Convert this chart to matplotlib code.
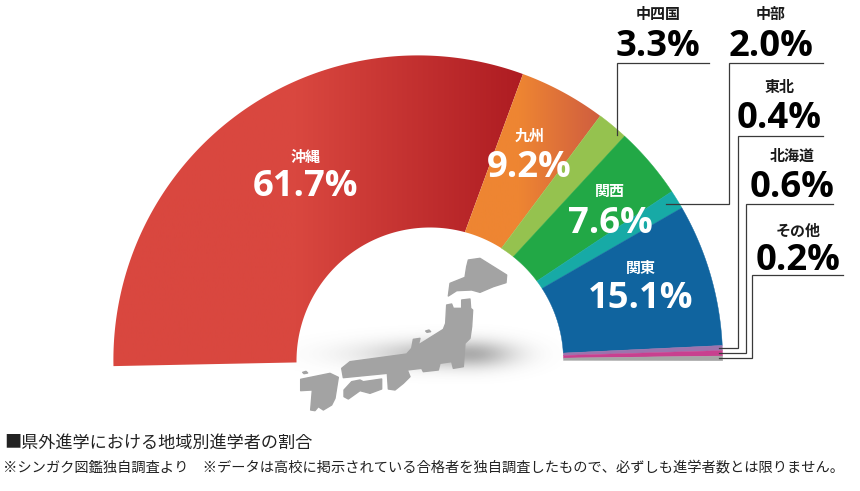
#!/usr/bin/env python3
"""Half-donut of where out-of-prefecture students go, by region."""
import numpy as np
import matplotlib
matplotlib.use("Agg")
import matplotlib.pyplot as plt
from matplotlib.colors import to_rgb
from matplotlib.patches import Polygon

JP = ["Noto Sans CJK JP", "DejaVu Sans"]
NUM = "Open Sans"

regions = ["沖縄", "九州", "中四国", "関西", "中部", "関東", "東北", "北海道", "その他"]
shares = [61.7, 9.2, 3.3, 7.6, 2.0, 15.1, 0.4, 0.6, 0.2]
colors = ["#d9473f", "#ee8532", "#95c24f", "#22a846", "#17aaa6", "#10649f",
          "#9d73ad", "#c8408f", "#a6a6a6"]
# horizontal shading in the two warm wedges: (left colour, right colour, where it starts)
shading = {"沖縄": ("#d9473f", "#ae1c22", 0.45), "九州": ("#ee8532", "#cf5d40", 0.4)}
# the three thinnest wedges are not to scale in the original: drawn width in degrees
sliver_deg = {"東北": 0.95, "北海道": 1.03, "その他": 0.9}

title = "■県外進学における地域別進学者の割合"
note = "※シンガク図鑑独自調査より　※データは高校に掲示されている合格者を独自調査したもので、必ずしも進学者数とは限りません。"

# region -> (name x, name y, value x, value y)
inner_labels = {
    "沖縄": (306, 157, 306, 187),
    "九州": (530, 136, 529, 168),
    "関西": (610, 191, 610, 224),
    "関東": (641, 268, 641, 299),
}
outer_labels = {
    "中四国": (658, 14, 658, 47),
    "中部": (771, 14, 771, 47),
    "東北": (780, 87, 779, 119),
    "北海道": (792, 156, 792, 188),
    "その他": (798, 231, 798, 261),
}

# leader lines, image pixels
leaders = [
    ([616.5, 616.5, 709], [135, 62.5, 62.5]),
    ([666, 729, 729, 823], [204, 204, 62.5, 62.5]),
    ([719, 738, 738, 823], [348, 348, 135.5, 135.5]),
    ([719, 745.5, 745.5, 833], [353, 353, 204, 204]),
    ([719, 751.5, 751.5, 843], [358, 358, 275, 275]),
]

hokkaido = [(565, 60), (600, 55), (680, 105), (678, 128), (640, 140), (600, 157), (575, 150),
            (530, 152), (505, 168), (510, 130), (555, 112), (560, 80)]
honshu = [(500, 195), (515, 192), (520, 205), (545, 205), (545, 180), (570, 177), (572, 205),
          (578, 210), (575, 260), (570, 295), (555, 310), (550, 380), (520, 385), (515, 365),
          (480, 370), (475, 390), (430, 395), (425, 385), (382, 390), (390, 410), (370, 430),
          (345, 450), (325, 447), (322, 400), (190, 413), (185, 385), (210, 365), (380, 342),
          (395, 325), (400, 298), (420, 295), (415, 315), (490, 268), (497, 250)]
shikoku = [(192, 450), (215, 425), (240, 420), (250, 425), (305, 417), (305, 447), (270, 460),
           (240, 452), (205, 477), (192, 470)]
kyushu = [(62, 418), (150, 400), (175, 412), (165, 475), (155, 495), (130, 510), (115, 500),
          (105, 512), (92, 510), (97, 450), (62, 452)]
sado = [(437, 273), (447, 270), (452, 275), (441, 277)]
tsushima = [(68, 397), (78, 394), (83, 399), (72, 401)]

# Wedge edges are rays from the outer circle's centre, cut by an off-centre inner circle
OUT_C, OUT_R = np.array([418.0, 360.0]), 304.6
IN_C, IN_R = np.array([430.0, 361.0]), 133.5
START_DEG = 181.15
DEG_PER_PCT = 1.804

fig = plt.figure(figsize=(8.6, 4.91), dpi=100)
ax = fig.add_axes([0, 0, 1, 1])
ax.set_xlim(0, 860)
ax.set_ylim(491, 0)
ax.axis("off")

# soft shadow under the map, longer to the left
xx, yy = np.meshgrid(np.linspace(290, 565, 275), np.linspace(320, 395, 75))
sx = np.where(xx < 470, 95.0, 45.0)
alpha = np.exp(-((xx - 470) / sx) ** 2 - ((yy - 354) / 14) ** 2) * 0.5
shadow = np.zeros(alpha.shape + (4,))
shadow[..., :3] = 0.35
shadow[..., 3] = alpha
ax.imshow(shadow, extent=(290, 565, 395, 320), aspect="auto", zorder=1)


def wedge_points(a0, a1):
    t = np.radians(np.linspace(a0, a1, 200))
    d = np.column_stack([np.cos(t), -np.sin(t)])  # y runs downward
    outer = OUT_C + OUT_R * d
    # where each ray meets the inner circle
    off = OUT_C - IN_C
    b = d @ off
    s = -b + np.sqrt(b ** 2 - off @ off + IN_R ** 2)
    inner = OUT_C + s[:, None] * d
    return np.vstack([outer, inner[::-1]])


angle = START_DEG
for name, val, col in zip(regions, shares, colors):
    step = sliver_deg.get(name, val * DEG_PER_PCT)
    pts = wedge_points(angle, angle - step)
    angle -= step
    if name in shading:
        left, right, begin = shading[name]
        x0, x1 = pts[:, 0].min(), pts[:, 0].max()
        f = np.clip((np.linspace(0, 1, 256) - begin) / (1 - begin), 0, 1)[None, :, None]
        grad = np.array(to_rgb(left)) * (1 - f) + np.array(to_rgb(right)) * f
        im = ax.imshow(grad, extent=(x0, x1, 400, 0), aspect="auto", zorder=2)
        im.set_clip_path(Polygon(pts, closed=True, transform=ax.transData))
    else:
        ax.add_patch(Polygon(pts, closed=True, fc=col, ec=col, lw=0.3, zorder=2))

# map on top of the shadow
for shape in [hokkaido, honshu, shikoku, kyushu, sado, tsushima]:
    arr = np.array(shape, dtype=float)
    arr = np.column_stack([280 + arr[:, 0] / 3, 240 + arr[:, 1] / 3])
    ax.add_patch(Polygon(arr, closed=True, fc="#a3a3a3", ec="#a3a3a3", lw=1.0,
                         joinstyle="round", zorder=3))

for xs, ys in leaders:
    ax.plot(xs, ys, color="#3a3a3a", lw=0.9, solid_joinstyle="miter", zorder=4)

val_of = dict(zip(regions, shares))
for labels, name_col, val_col in [(inner_labels, "white", "white"), (outer_labels, "#1a1a1a", "black")]:
    for name, (nx, ny, vx, vy) in labels.items():
        ax.text(nx, ny, name, color=name_col, family=JP, weight="bold", fontsize=10.8,
                ha="center", va="center", zorder=5)
        ax.text(vx, vy, f"{val_of[name]:.1f}%", color=val_col, family=NUM, weight="bold",
                fontsize=26.2, ha="center", va="center", zorder=5)

ax.text(4, 443, title, color="#222222", family=JP, fontsize=12.35, ha="left", va="center")
ax.text(3, 467, note, color="#222222", family=JP, fontsize=10.28, ha="left", va="center")

fig.savefig("out.png", dpi=100)
